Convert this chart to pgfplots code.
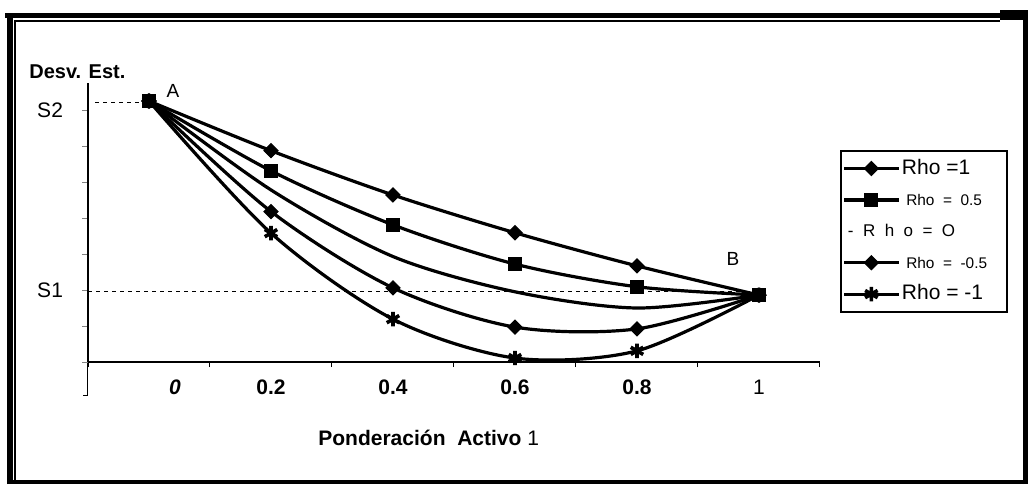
\documentclass[border=0pt]{standalone}
\usepackage{fontspec}
\setmainfont{Liberation Sans}
\usepackage{pgfplots}
\pgfplotsset{compat=1.18}

\begin{document}
\begin{tikzpicture}[x=1pt,y=1pt]
\useasboundingbox (0,0) rectangle (514,242);
% outer frame
\fill (500,232) rectangle (514,237);
\draw[line width=3pt] (5,0) -- (5,235.5);
\draw[line width=1pt] (7.5,1) -- (7.5,231.5);
\draw[line width=2.5pt] (2.5,234.25) -- (514,234.25);
\draw[line width=1pt] (7,231.5) -- (500,231.5);
\draw[line width=2.5pt] (512.75,0) -- (512.75,235);
\draw[line width=2pt] (3.5,1) -- (514,1);
% small axis extension bottom-left
\draw[line width=0.5pt] (43.5,61) -- (43.5,44.5) -- (41.5,44.5);

\begin{axis}[
  at={(44pt,61pt)}, anchor=south west,
  scale only axis, width=366pt, height=139.5pt,
  xmin=-0.5, xmax=5.5, ymin=0, ymax=7.75,
  clip=false,
  axis x line*=bottom, axis y line*=left,
  axis line style={line width=0.6pt},
  tick align=outside,
  xtick={0,1,2,3,4,5},
  xticklabels={\hspace*{26pt}\textbf{\textit{0}},\textbf{0.2},\textbf{0.4},\textbf{0.6},\textbf{0.8},1},
  x tick style={draw=none},
  xticklabel style={font=\fontsize{10.5}{12}\selectfont, yshift=-2.5pt},
  extra x ticks={-0.5,0.5,1.5,2.5,3.5,4.5,5.5},
  extra x tick labels={},
  extra x tick style={major tick length=2.5pt, x tick style={draw=black, line width=0.5pt}},
  ytick={0,1,2,3,4,5,6,7},
  yticklabels={,,S1,,,,,S2},
  y tick style={line width=0.5pt},
  major tick length=3pt,
  yticklabel style={font=\fontsize{10.5}{12}\selectfont, xshift=-6pt},
  legend style={at={(axis description cs:1.0273,0.7599)}, anchor=north west,
    draw=black, line width=0.8pt, inner xsep=1pt, inner ysep=1pt, row sep=0pt,
    nodes={inner xsep=1pt, inner ysep=3.1pt, text height=7.5pt, text depth=2pt}},
  legend cell align=left,
  legend image code/.code={\draw[mark repeat=2,mark phase=2,#1] plot coordinates {(0pt,0pt) (13.5pt,0pt) (27pt,0pt)};},
  every axis plot/.append style={line width=1.6pt, black, smooth},
]
\draw[dashed, line width=0.5pt, dash pattern=on 2pt off 2pt] (axis cs:-0.44,7.2) -- (axis cs:-0.05,7.2);
\draw[dashed, line width=0.5pt, dash pattern=on 2pt off 2pt] (axis cs:-0.5,1.97) -- (axis cs:5,1.97);

\addplot[mark=square*, mark size=2.5pt, mark options={solid, rotate=45, line width=0.5pt}] coordinates {
 (0,7.25) (1,5.87) (2,4.64) (3,3.59) (4,2.67) (5,1.86)};
\addlegendentry{\fontsize{10.5}{12}\selectfont Rho =1}
\addplot[mark=square*, mark size=3.3pt, mark options={solid, line width=0.5pt}] coordinates {
 (0,7.25) (1,5.31) (2,3.81) (3,2.72) (4,2.09) (5,1.86)};
\addlegendentry{\fontsize{7.7}{9}\selectfont\ Rho\ \ =\ \ 0.5}
\addplot[no marks, legend image code/.code={}] coordinates {
 (0,7.25) (1,4.78) (2,2.93) (3,1.95) (4,1.50) (5,1.86)};
\addlegendentry{\hspace*{-27pt}\fontsize{8.5}{10}\selectfont -\ \ R\ \ h\ \ o\ \ =\ \ O}
\addplot[mark=square*, mark size=2.5pt, mark options={solid, rotate=45, line width=0.5pt}] coordinates {
 (0,7.25) (1,4.18) (2,2.06) (3,0.97) (4,0.92) (5,1.86)};
\addlegendentry{\fontsize{7.7}{9}\selectfont\ Rho\ \ =\ \ -0.5\hbox{\kern8pt}}
\addplot[mark=asterisk, mark size=3.6pt, mark options={solid, line width=1.8pt}] coordinates {
 (0,7.25) (1,3.58) (2,1.19) (3,0.11) (4,0.31) (5,1.86)};
\addlegendentry{\fontsize{10.5}{12}\selectfont Rho = -1}
\end{axis}

% texts
\node[anchor=base west, inner sep=0, font=\bfseries\fontsize{10}{12}\selectfont] at (14.5,203) {Desv. Est.};
\node[anchor=base, inner sep=0, font=\fontsize{9.5}{11}\selectfont] at (86.5,193.5) {A};
\node[anchor=base, inner sep=0, font=\fontsize{9.5}{11}\selectfont] at (366.5,109.5) {B};
\node[anchor=base west, inner sep=0, font=\fontsize{10.5}{12}\selectfont] at (159,19.5) {\textbf{Ponderación\ \ Activo} 1};
\end{tikzpicture}
\end{document}
